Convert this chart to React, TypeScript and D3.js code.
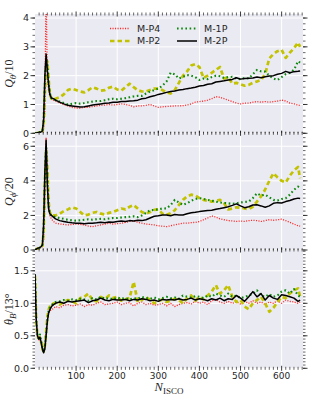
import React from 'react';
import * as d3 from 'd3';

// N_ISCO sample positions
const nIsco = [
  0, 3, 6, 9, 12, 15, 18, 21, 24, 27, 30, 33, 36, 40, 45,
  50, 60, 70, 80, 90, 100, 110, 120, 130, 140,
  150, 160, 170, 180, 190, 200, 210, 220, 230, 240,
  250, 260, 270, 280, 290, 300, 310, 320, 330, 340,
  350, 360, 370, 380, 390, 400, 410, 420, 430, 440,
  450, 460, 470, 480, 490, 500, 510, 520, 530, 540,
  550, 560, 570, 580, 590, 600, 610, 620, 630, 640, 645,
];

const seriesNames = ['M-P4', 'M-P2', 'M-1P', 'M-2P'];

// Q_theta / 10
const qThetaP4 = [
  0, 0, 0.01, 0.02, 0.03, 0.04, 0.06, 0.2, 0.8, 5.0, 2.0, 1.5, 1.3, 1.2, 1.15,
  1.12, 1.05, 1.0, 0.95, 0.9, 0.88, 0.87, 0.9, 0.9, 0.93,
  0.95, 0.97, 0.98, 1.0, 0.98, 1.0, 1.02, 1.0, 0.97, 0.92,
  0.95, 0.95, 0.97, 1.0, 0.95, 0.9, 0.92, 0.93, 0.94, 0.95,
  0.95, 0.96, 0.98, 1.02, 1.08, 1.1, 1.12, 1.15, 1.2, 1.27,
  1.25, 1.2, 1.15, 1.1, 1.05, 1.02, 1.05, 1.05, 1.08, 1.1,
  1.08, 1.1, 1.08, 1.1, 1.12, 1.15, 1.12, 1.05, 1.02, 0.98, 0.97,
];
const qThetaP2 = [
  0, 0, 0.01, 0.02, 0.03, 0.04, 0.06, 0.3, 1.4, 2.3, 2.5, 1.9, 1.4, 1.2, 1.15,
  1.2, 1.25, 1.35, 1.5, 1.55, 1.5, 1.45, 1.42, 1.5, 1.6,
  1.55, 1.48, 1.5, 1.58, 1.62, 1.52, 1.48, 1.6, 1.72, 1.6,
  1.5, 1.45, 1.45, 1.5, 1.55, 1.55, 1.5, 1.42, 1.38, 1.5,
  1.75, 2.0, 2.15, 2.35, 2.4, 2.3, 1.92, 2.0, 2.1, 2.2,
  2.3, 1.9, 1.95, 1.72, 1.75, 1.7, 1.65, 1.68, 1.75, 1.8,
  1.85, 2.05, 2.6, 2.75, 2.85, 2.9, 2.62, 2.8, 2.95, 3.15, 3.0,
];
const qTheta1P = [
  0, 0.01, 0.02, 0.03, 0.04, 0.05, 0.07, 0.4, 1.7, 2.55, 2.45, 1.8, 1.4, 1.22, 1.2,
  1.15, 1.1, 1.05, 1.0, 1.02, 1.05, 1.03, 1.05, 1.08, 1.1,
  1.12, 1.12, 1.15, 1.18, 1.2, 1.18, 1.2, 1.22, 1.25, 1.28,
  1.3, 1.3, 1.38, 1.45, 1.5, 1.55, 1.65, 1.8, 2.1, 2.05,
  1.9, 1.96, 2.02, 2.0, 1.95, 1.85, 1.9, 1.88, 1.95, 2.0,
  1.98, 1.92, 1.95, 1.96, 1.9, 1.88, 1.92, 1.9, 2.05, 2.2,
  2.15, 2.14, 2.0, 1.9, 1.85, 1.95, 2.05, 2.1, 2.2, 2.5, 2.45,
];
const qTheta2P = [
  0, 0.01, 0.02, 0.03, 0.04, 0.05, 0.08, 0.5, 2.0, 2.75, 2.2, 1.7, 1.35, 1.22, 1.2,
  1.15, 1.08, 1.02, 0.97, 0.95, 0.93, 0.91, 0.92, 0.95, 0.98,
  1.0, 1.02, 1.04, 1.05, 1.08, 1.08, 1.1, 1.1, 1.12, 1.13,
  1.15, 1.2, 1.22, 1.27, 1.3, 1.35, 1.38, 1.42, 1.45, 1.47,
  1.5, 1.52, 1.55, 1.57, 1.6, 1.64, 1.66, 1.7, 1.72, 1.78,
  1.8, 1.82, 1.85, 1.87, 1.93, 1.88, 1.9, 1.91, 1.92, 1.95,
  1.93, 1.96, 1.99, 2.0, 2.05, 2.08, 2.15, 2.1, 2.14, 2.15, 2.16,
];

// Q_phi / 20
const qPhiP4 = [
  0, 0.03, 0.08, 0.1, 0.12, 0.15, 0.2, 0.6, 3.0, 6.5, 4.5, 2.6, 2.0, 1.8, 1.65,
  1.55, 1.5, 1.48, 1.45, 1.47, 1.5, 1.48, 1.45, 1.38, 1.35,
  1.4, 1.45, 1.5, 1.55, 1.5, 1.52, 1.55, 1.6, 1.65, 1.7,
  1.6, 1.55, 1.5, 1.48, 1.45, 1.4, 1.38, 1.35, 1.4, 1.45,
  1.5, 1.55, 1.55, 1.58, 1.6, 1.65, 1.75, 1.85, 1.97, 1.9,
  1.8, 1.75, 1.7, 1.68, 1.65, 1.68, 1.65, 1.7, 1.72, 1.7,
  1.65, 1.7, 1.75, 1.72, 1.75, 1.78, 1.7, 1.6, 1.5, 1.4, 1.38,
];
const qPhiP2 = [
  0, 0.03, 0.08, 0.1, 0.12, 0.15, 0.25, 1.0, 3.8, 5.8, 4.8, 2.8, 2.2, 2.0, 2.0,
  2.0, 2.1, 2.25, 2.35, 2.47, 2.4, 2.2, 2.0, 2.05, 2.15,
  2.2, 2.1, 2.05, 2.15, 2.2, 2.3, 2.4, 2.35, 2.5, 2.6,
  2.4, 2.2, 2.1, 2.2, 2.32, 2.35, 2.1, 2.03, 2.12, 2.3,
  2.6, 2.9, 3.1, 3.2, 3.15, 3.0, 2.9, 2.85, 2.8, 2.85,
  2.9, 2.7, 2.35, 2.4, 2.47, 2.45, 2.4, 2.36, 2.5, 2.8,
  3.1, 3.5, 4.0, 4.44, 4.2, 4.0, 3.9, 4.3, 4.6, 4.8, 4.15,
];
const qPhi1P = [
  0, 0.04, 0.09, 0.11, 0.14, 0.18, 0.28, 1.2, 4.0, 6.0, 4.2, 2.6, 2.1, 2.0, 1.95,
  1.9, 1.85, 1.8, 1.75, 1.72, 1.7, 1.72, 1.75, 1.78, 1.75,
  1.78, 1.8, 1.78, 1.82, 1.85, 1.85, 1.88, 1.9, 1.92, 1.95,
  1.9, 2.0, 2.15, 2.3, 2.32, 2.35, 2.4, 2.41, 2.6, 2.9,
  2.75, 2.61, 2.7, 2.85, 2.95, 3.0, 2.95, 2.9, 2.85, 2.8,
  2.75, 2.72, 2.7, 2.67, 2.7, 2.75, 2.78, 2.8, 3.0, 3.28,
  3.15, 3.2, 3.05, 2.9, 2.86, 2.95, 3.0, 3.2, 3.48, 3.67, 3.6,
];
const qPhi2P = [
  0, 0.05, 0.1, 0.12, 0.15, 0.2, 0.3, 1.5, 4.5, 6.35, 3.8, 2.4, 2.1, 2.0, 1.9,
  1.8, 1.7, 1.65, 1.6, 1.57, 1.55, 1.55, 1.52, 1.55, 1.55,
  1.57, 1.6, 1.58, 1.62, 1.6, 1.65, 1.68, 1.65, 1.7, 1.68,
  1.72, 1.7, 1.75, 1.85, 1.95, 1.98, 2.02, 2.03, 1.98, 2.05,
  2.03, 2.02, 2.1, 2.15, 2.18, 2.22, 2.25, 2.28, 2.3, 2.36,
  2.4, 2.45, 2.5, 2.58, 2.67, 2.55, 2.45, 2.5, 2.6, 2.62,
  2.55, 2.47, 2.55, 2.7, 2.74, 2.72, 2.8, 2.86, 2.95, 3.0, 2.98,
];

// theta_B / 13 deg
const thetaBP4 = [
  1.4, 0.7, 0.48, 0.44, 0.45, 0.38, 0.28, 0.25, 0.32, 0.55, 0.75, 0.85, 0.88, 0.9, 0.92,
  0.95, 0.93, 0.97, 0.98, 0.96, 0.97, 0.99, 0.95, 0.98, 0.97,
  1.0, 1.02, 0.98, 0.99, 1.0, 1.02, 0.98, 1.0, 1.01, 0.96,
  1.0, 1.02, 0.98, 1.0, 0.97, 0.98, 1.0, 0.96, 1.0, 0.95,
  0.98, 1.0, 1.01, 0.99, 1.03, 1.0, 1.02, 0.98, 1.04, 1.06,
  1.02, 1.0, 1.03, 1.0, 1.02, 0.99, 1.03, 1.0, 1.04, 1.0,
  1.02, 0.98, 1.02, 1.0, 1.04, 1.0, 1.05, 1.03, 1.02, 1.0, 1.02,
];
const thetaBP2 = [
  1.42, 0.72, 0.5, 0.46, 0.47, 0.4, 0.3, 0.26, 0.35, 0.55, 0.78, 0.9, 0.95, 0.95, 1.0,
  1.0, 0.98, 1.02, 1.05, 1.03, 1.0, 1.08, 1.1, 1.15, 1.05,
  1.03, 1.1, 1.06, 1.12, 1.08, 1.1, 1.04, 1.06, 1.08, 1.33,
  1.02, 1.05, 1.1, 1.05, 1.0, 1.03, 1.06, 1.02, 1.04, 1.07,
  1.05, 1.0, 1.08, 1.12, 1.04, 1.1, 1.06, 1.12, 1.18, 1.28,
  1.15, 1.2, 1.28, 1.1, 1.02, 1.05, 0.95, 0.91, 1.0, 1.05,
  1.1, 1.0, 0.87, 0.93, 1.02, 1.1, 1.08, 1.15, 1.2, 1.23, 1.1,
];
const thetaB1P = [
  1.44, 0.74, 0.5, 0.46, 0.52, 0.42, 0.3, 0.25, 0.33, 0.52, 0.75, 0.88, 0.93, 0.97, 1.0,
  1.02, 1.03, 1.05, 1.04, 1.06, 1.05, 1.07, 1.06, 1.04, 1.08,
  1.06, 1.1, 1.07, 1.08, 1.06, 1.09, 1.07, 1.08, 1.06, 1.08,
  1.07, 1.1, 1.08, 1.07, 1.09, 1.06, 1.08, 1.1, 1.08, 1.09,
  1.07, 1.12, 1.1, 1.09, 1.11, 1.1, 1.08, 1.12, 1.1, 1.15,
  1.12, 1.1, 1.15, 1.1, 1.12, 1.08, 1.1, 1.12, 1.15, 1.2,
  1.12, 1.1, 1.14, 1.1, 1.12, 1.18, 1.2, 1.15, 1.22, 1.12, 1.1,
];
const thetaB2P = [
  1.45, 0.75, 0.5, 0.45, 0.48, 0.4, 0.3, 0.24, 0.3, 0.5, 0.72, 0.85, 0.9, 0.95, 0.98,
  1.0, 1.02, 1.0, 1.03, 1.02, 1.03, 1.04, 1.05, 1.01, 1.04,
  1.05, 1.08, 1.05, 1.04, 1.06, 1.05, 1.05, 1.06, 1.04, 1.06,
  1.05, 1.07, 1.06, 1.04, 1.05, 1.03, 1.06, 1.05, 1.06, 1.05,
  1.07, 1.05, 1.06, 1.08, 1.05, 1.07, 1.06, 1.04, 1.07, 1.05,
  1.08, 1.04, 1.07, 1.06, 1.12, 1.08, 1.03, 1.1, 1.18, 1.1,
  1.15, 1.05, 1.12, 1.08, 1.06, 1.13, 1.12, 1.1, 1.08, 1.03, 1.05,
];

const qThetaTicks = [0, 1, 2, 3, 4];
const qPhiTicks = [0, 2, 4, 6];
const thetaBTicks = [0, 0.5, 1.0, 1.5];
const xTicks = [100, 200, 300, 400, 500, 600];

const styles = [
  { color: '#ff2b2b', width: 1.3, dash: '1.1 1.4' },
  { color: '#c2c200', width: 2.7, dash: '4.5 3' },
  { color: '#0b870b', width: 2.1, dash: '1.6 2.6' },
  { color: '#000000', width: 1.5, dash: undefined as string | undefined },
];

const LEFT = 35;
const RIGHT = 303;
const BG = '#eaeaf2';
const INK = '#262626';
const TICK_FONT = 'DejaVu Sans, sans-serif';
const MATH_FONT = 'Liberation Serif, DejaVu Serif, serif';

const x = d3.scaleLinear().domain([0, 652]).range([LEFT, RIGHT]);

type PanelDef = {
  id: string;
  top: number;
  bottom: number;
  ymax: number;
  ticks: number[];
  minor: number;
  fmt: (v: number) => string;
  data: number[][];
  label: React.ReactNode;
};

const panels: PanelDef[] = [
  {
    id: 'p1', top: 14, bottom: 133.3, ymax: 4.14, ticks: qThetaTicks, minor: 0.2,
    fmt: d3.format('d'), data: [qThetaP4, qThetaP2, qTheta1P, qTheta2P],
    label: (
      <>
        <tspan fontStyle="italic">Q</tspan>
        <tspan fontStyle="italic" fontSize={9} dy={2.5}>θ</tspan>
        <tspan dy={-2.5}>/10</tspan>
      </>
    ),
  },
  {
    id: 'p2', top: 133.3, bottom: 250, ymax: 6.75, ticks: qPhiTicks, minor: 0.25,
    fmt: d3.format('d'), data: [qPhiP4, qPhiP2, qPhi1P, qPhi2P],
    label: (
      <>
        <tspan fontStyle="italic">Q</tspan>
        <tspan fontStyle="italic" fontSize={9} dy={2.5}>ϕ</tspan>
        <tspan dy={-2.5}>/20</tspan>
      </>
    ),
  },
  {
    id: 'p3', top: 250, bottom: 368.3, ymax: 1.82, ticks: thetaBTicks, minor: 0.05,
    fmt: d3.format('.1f'), data: [thetaBP4, thetaBP2, thetaB1P, thetaB2P],
    label: (
      <>
        <tspan fontStyle="italic">θ</tspan>
        <tspan fontStyle="italic" fontSize={9} dy={2.5}>B</tspan>
        <tspan dy={-2.5}>/13°</tspan>
      </>
    ),
  },
];

function Panel({ p, last }: { p: PanelDef; last: boolean }) {
  const y = d3.scaleLinear().domain([0, p.ymax]).range([p.bottom, p.top]);
  const line = d3.line<number>()
    .x((_, i) => x(nIsco[i]))
    .y((d) => y(d));
  const minorY = d3.range(0, p.ymax + 1e-9, p.minor);
  const minorX = d3.range(10, 651, 10);
  const mid = (p.top + p.bottom) / 2;
  return (
    <g>
      <defs>
        <clipPath id={`clip-${p.id}`}>
          <rect x={LEFT} y={p.top} width={RIGHT - LEFT} height={p.bottom - p.top} />
        </clipPath>
      </defs>
      <rect x={LEFT} y={p.top} width={RIGHT - LEFT} height={p.bottom - p.top} fill={BG} />
      {xTicks.map((t) => (
        <line key={`gx${t}`} x1={x(t)} x2={x(t)} y1={p.top} y2={p.bottom} stroke="#fff" strokeWidth={1} />
      ))}
      {p.ticks.map((t) => (
        <line key={`gy${t}`} x1={LEFT} x2={RIGHT} y1={y(t)} y2={y(t)} stroke="#fff" strokeWidth={1} />
      ))}
      <g clipPath={`url(#clip-${p.id})`}>
        {p.data.map((d, i) => (
          <path
            key={seriesNames[i]}
            d={line(d.slice(0, nIsco.length)) || ''}
            fill="none"
            stroke={styles[i].color}
            strokeWidth={styles[i].width}
            strokeDasharray={styles[i].dash}
            strokeLinejoin="round"
          />
        ))}
      </g>
      {/* y ticks on both sides */}
      {minorY.map((t, i) => (
        <g key={`my${i}`} stroke={INK} strokeWidth={0.7}>
          <line x1={LEFT - 2.5} x2={LEFT} y1={y(t)} y2={y(t)} />
          <line x1={RIGHT} x2={RIGHT + 2.5} y1={y(t)} y2={y(t)} />
        </g>
      ))}
      {p.ticks.map((t) => (
        <g key={`ty${t}`}>
          <line x1={LEFT - 4.5} x2={LEFT} y1={y(t)} y2={y(t)} stroke={INK} strokeWidth={0.9} />
          <line x1={RIGHT} x2={RIGHT + 4.5} y1={y(t)} y2={y(t)} stroke={INK} strokeWidth={0.9} />
          <text x={LEFT - 6} y={y(t)} dy="0.35em" textAnchor="end" fontSize={9.5} fill={INK} fontFamily={TICK_FONT}>
            {p.fmt(t)}
          </text>
        </g>
      ))}
      {/* x ticks top & bottom */}
      {minorX.map((t) => {
        const big = t % 100 === 0;
        const h = big ? 2.5 : 1.5;
        return (
          <g key={`mx${t}`} stroke={INK} strokeWidth={big ? 0.9 : 0.7}>
            <line x1={x(t)} x2={x(t)} y1={p.top - h} y2={p.top + h} />
            <line x1={x(t)} x2={x(t)} y1={p.bottom - h} y2={p.bottom + h} />
          </g>
        );
      })}
      {last && xTicks.map((t) => (
        <text key={`xl${t}`} x={x(t)} y={p.bottom + 10.3} textAnchor="middle" fontSize={9} fill={INK} fontFamily={TICK_FONT}>
          {t}
        </text>
      ))}
      <text
        transform={`translate(13, ${mid}) rotate(-90)`}
        textAnchor="middle"
        fontSize={12}
        fill={INK}
        fontFamily={MATH_FONT}
      >
        {p.label}
      </text>
    </g>
  );
}

function Legend() {
  const items = [
    { i: 0, lx: 110, ty: 28.5 },
    { i: 1, lx: 110, ty: 41 },
    { i: 2, lx: 177, ty: 28.5 },
    { i: 3, lx: 177, ty: 41 },
  ];
  return (
    <g>
      {items.map(({ i, lx, ty }) => (
        <g key={seriesNames[i]}>
          <line
            x1={lx}
            x2={lx + 20}
            y1={ty}
            y2={ty}
            stroke={styles[i].color}
            strokeWidth={styles[i].width}
            strokeDasharray={styles[i].dash}
          />
          <text x={lx + 27} y={ty} dy="0.35em" fontSize={9.5} fill={INK} fontFamily={TICK_FONT}>
            {seriesNames[i]}
          </text>
        </g>
      ))}
    </g>
  );
}

export default function App() {
  return (
    <svg
      width={315}
      height={405}
      style={{ position: 'absolute', left: 0, top: 0, background: '#fff' }}
    >
      {panels.map((p, i) => (
        <Panel key={p.id} p={p} last={i === panels.length - 1} />
      ))}
      <Legend />
      <text x={(LEFT + RIGHT) / 2} y={391} textAnchor="middle" fontSize={12.5} fill={INK} fontFamily={MATH_FONT}>
        <tspan fontStyle="italic">N</tspan>
        <tspan fontSize={9} dy={3}>ISCO</tspan>
      </text>
    </svg>
  );
}
